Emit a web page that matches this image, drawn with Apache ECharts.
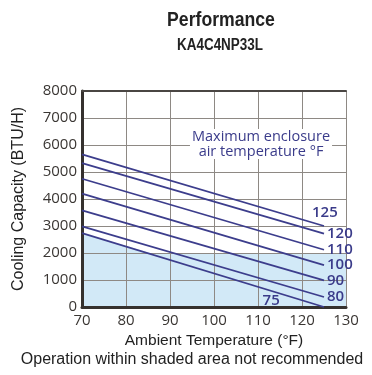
<!DOCTYPE html>
<html>
<head>
<meta charset="utf-8">
<script src="https://cdn.jsdelivr.net/npm/echarts@6/dist/echarts.min.js"></script>
<style>
html,body{margin:0;padding:0;background:#fff;}
#chart{width:372px;height:375px;}
</style>
</head>
<body>
<div id="chart"></div>
<script>
// Data
var xTemps = [70, 125];                 // ambient temperature endpoints (°F)
var seriesNames = ['125', '120', '110', '100', '90', '80', '75']; // max enclosure air temp °F
var cap125 = [5650, 3000];
var cap120 = [5330, 2720];
var cap110 = [4750, 2120];
var cap100 = [4200, 1550];
var cap90  = [3580, 990];
var cap80  = [2990, 370];
var cap75  = [2740, 0];
var shadeX = [70, 85.5, 130];           // shaded (not recommended) region boundary
var shadeY = [2740, 2000, 2000];
var xTicks = [70, 80, 90, 100, 110, 120, 130];
var yTicks = [0, 1000, 2000, 3000, 4000, 5000, 6000, 7000, 8000];

var capacities = [cap125, cap120, cap110, cap100, cap90, cap80, cap75];
var lineColor = '#3c3d8c';
var labelColor = '#3a3b8a';

function pairs(xs, ys) { return xs.map(function (x, i) { return [x, ys[i]]; }); }

var series = [{
  type: 'line',
  name: 'shade',
  z: -1,
  data: pairs(shadeX, shadeY),
  symbol: 'none',
  lineStyle: { width: 0, opacity: 0 },
  areaStyle: { color: '#d2e9f7', opacity: 1 },
  silent: true
}];

capacities.forEach(function (ys, i) {
  var name = seriesNames[i];
  var s = {
    type: 'line',
    name: name,
    data: pairs(xTemps, ys),
    symbol: 'none',
    lineStyle: { color: lineColor, width: 1.8 },
    silent: true
  };
  if (name === '75') {
    s.markPoint = {
      symbol: 'circle', symbolSize: 0,
      data: [{ coord: [113, 248] }],
      label: { show: true, formatter: '75', position: 'inside', color: labelColor,
               fontFamily: 'Open Sans', fontSize: 15, fontWeight: 600 }
    };
  } else {
    s.endLabel = {
      show: true, formatter: name, distance: 3,
      offset: name === '125' ? [-15, -13] : [0, 0],
      color: labelColor, fontFamily: 'Open Sans', fontSize: 15, fontWeight: 600
    };
  }
  series.push(s);
});

var chart = echarts.init(document.getElementById('chart'), null, { renderer: 'canvas' });
chart.setOption({
  animation: false,
  backgroundColor: '#fff',
  grid: { left: 82, right: 26, top: 91, bottom: 68, containLabel: false, outerBoundsMode: 'none' },
  xAxis: [{
    type: 'value', min: xTicks[0], max: xTicks[xTicks.length - 1], interval: 10,
    name: 'Ambient Temperature (°F)', nameLocation: 'middle', nameGap: 26,
    nameTextStyle: { fontFamily: 'Liberation Sans', fontSize: 15.5, color: '#222' },
    axisLine: { show: true, lineStyle: { color: '#35312e', width: 3 } },
    axisTick: { show: false },
    axisLabel: { margin: 6, fontFamily: 'Open Sans', fontSize: 15, fontWeight: 500, color: '#3a3633' },
    splitLine: { show: true, lineStyle: { color: '#8e8984', width: 1 } }
  }, {
    type: 'value', position: 'top', min: xTicks[0], max: xTicks[xTicks.length - 1], interval: 10,
    axisLine: { show: true, onZero: false, lineStyle: { color: '#4a4643', width: 2 } },
    axisTick: { show: false }, axisLabel: { show: false }, splitLine: { show: false }
  }],
  yAxis: {
    type: 'value', min: yTicks[0], max: yTicks[yTicks.length - 1], interval: 1000,
    name: 'Cooling Capacity (BTU/H)', nameLocation: 'middle', nameGap: 55,
    nameTextStyle: { fontFamily: 'Liberation Sans', fontSize: 16, color: '#222' },
    axisLine: { show: true, lineStyle: { color: '#35312e', width: 3 } },
    axisTick: { show: false },
    axisLabel: { margin: 5, fontFamily: 'Open Sans', fontSize: 15, fontWeight: 500, color: '#3a3633',
                 formatter: function (v) { return String(v); } },
    splitLine: { show: true, lineStyle: { color: '#8e8984', width: 1 } }
  },
  graphic: [
    { type: 'text', x: 221, y: 20, scaleX: 0.84, style: { text: 'Performance', fontFamily: 'Liberation Sans', fontWeight: 'bold', fontSize: 21, fill: '#222', textAlign: 'center', textVerticalAlign: 'middle' } },
    { type: 'text', x: 220, y: 46, scaleX: 0.84, style: { text: 'KA4C4NP33L', fontFamily: 'Liberation Sans', fontWeight: 'bold', fontSize: 16, fill: '#222', textAlign: 'center', textVerticalAlign: 'middle' } },
    { type: 'text', x: 261, y: 144, z: 10, style: { text: 'Maximum enclosure\nair temperature °F', fontFamily: 'Open Sans', fontSize: 14.5, fontWeight: 500, lineHeight: 15, fill: labelColor, textAlign: 'center', textVerticalAlign: 'middle', backgroundColor: '#fff', padding: [0, 2] } },
    { type: 'text', x: 192, y: 360, style: { text: 'Operation within shaded area not recommended', fontFamily: 'Liberation Sans', fontSize: 16, fill: '#222', textAlign: 'center', textVerticalAlign: 'middle' } }
  ],
  series: series
});
</script>
</body>
</html>
